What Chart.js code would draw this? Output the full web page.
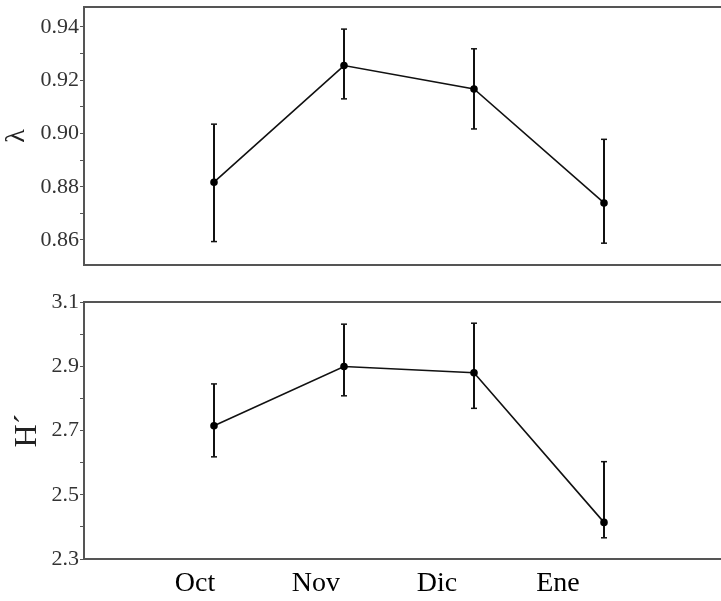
<!DOCTYPE html>
<html>
<head>
<meta charset="utf-8">
<script src="https://cdn.jsdelivr.net/npm/chart.js@4/dist/chart.umd.min.js"></script>
<style>
  html, body { margin: 0; padding: 0; background: #fff; overflow: hidden; width: 721px; height: 601px; }
  canvas { position: absolute; left: 0; }
  #c1 { top: 0; }
  #c2 { top: 290px; }
</style>
</head>
<body>
<canvas id="c1" width="740" height="272"></canvas>
<canvas id="c2" width="740" height="311"></canvas>
<script>
// ---- data ----
const months = ["Oct", "Nov", "Dic", "Ene"];

const lambdaMean = [0.8817, 0.9255, 0.9167, 0.8739];
const lambdaLow  = [0.8594, 0.9130, 0.9017, 0.8588];
const lambdaHigh = [0.9035, 0.9392, 0.9318, 0.8978];

const hMean = [2.715, 2.899, 2.880, 2.414];
const hLow  = [2.618, 2.808, 2.769, 2.366];
const hHigh = [2.845, 3.031, 3.034, 2.603];

const lambdaTicks = [0.86, 0.88, 0.90, 0.92, 0.94];
const hTicks = [2.3, 2.5, 2.7, 2.9, 3.1];

// ---- helpers ----
const SERIF = "'Liberation Serif', 'Times New Roman', serif";
const AXIS_COLOR = "#555";

const boxPlugin = {
  id: "box",
  afterDraw(chart) {
    const a = chart.chartArea, ctx = chart.ctx;
    ctx.save();
    ctx.strokeStyle = AXIS_COLOR;
    ctx.lineWidth = 2;
    ctx.strokeRect(a.left, a.top, a.right - a.left, a.bottom - a.top);
    ctx.restore();
  }
};

function buildDatasets(mean, low, high) {
  const whiskers = months.flatMap((m, i) => [{x: i, y: low[i]}, {x: i, y: high[i]}, {x: i, y: null}]);
  const caps = months.flatMap((m, i) => [{x: i, y: low[i]}, {x: i, y: high[i]}]);
  const means = months.map((m, i) => ({x: i, y: mean[i]}));
  return [
    { data: means, showLine: true, borderColor: "#111", borderWidth: 1.6,
      pointRadius: 3, pointBackgroundColor: "#000", pointBorderColor: "#000", order: 0 },
    { data: whiskers, showLine: true, spanGaps: false, borderColor: "#111", borderWidth: 2,
      pointRadius: 0, order: 1 },
    { data: caps, showLine: false, pointStyle: "line", pointRadius: 3,
      borderColor: "#111", pointBorderColor: "#111", pointBorderWidth: 1.5, order: 2 }
  ];
}

function yScale(min, max, step, labelTicks, decimals, title, titleSize, titlePad) {
  return {
    type: "linear", min: min, max: max,
    afterFit: (s) => { s.width = 84; s.paddingTop = 0; s.paddingBottom = 0; },
    border: { display: false },
    grid: { drawOnChartArea: false, drawTicks: true, tickLength: 4, color: AXIS_COLOR, lineWidth: 1 },
    ticks: {
      stepSize: step, includeBounds: false, padding: 1, color: "#333",
      font: { family: SERIF, size: 22 },
      callback: (v) => {
        const hit = labelTicks.find(t => Math.abs(t - v) < step / 10);
        return hit !== undefined ? hit.toFixed(decimals) : "";
      }
    },
    title: { display: true, text: title, color: "#222",
      font: { family: SERIF, size: titleSize }, padding: { top: titlePad, bottom: 0 } }
  };
}

// data axis (hidden) – points sit at integer positions
function xDataScale() {
  return { type: "linear", min: -1, max: 4, display: false };
}

// month label axis at the bottom of the lower panel
function xLabelScale() {
  return {
    type: "linear", position: "bottom", min: -0.917, max: 4.455,
    afterFit: (s) => { s.height = 42; s.paddingLeft = 0; s.paddingRight = 0; },
    border: { display: false },
    grid: { display: false, drawTicks: false },
    ticks: {
      stepSize: 1, includeBounds: false, padding: 8, color: "#000",
      autoSkip: false, maxRotation: 0,
      font: { family: SERIF, size: 28 },
      callback: (v) => (Number.isInteger(v) && months[v] !== undefined) ? months[v] : ""
    }
  };
}

Chart.defaults.animation = false;

new Chart(document.getElementById("c1"), {
  type: "scatter",
  data: { datasets: buildDatasets(lambdaMean, lambdaLow, lambdaHigh) },
  options: {
    responsive: false, devicePixelRatio: 1, animation: false,
    layout: { padding: { top: 7, bottom: 7, left: 0, right: 6 } },
    plugins: { legend: { display: false }, tooltip: { enabled: false } },
    scales: {
      x: xDataScale(),
      y: yScale(0.8506, 0.9475, 0.01, lambdaTicks, 2, "λ", 28, 0)
    }
  },
  plugins: [boxPlugin]
});

new Chart(document.getElementById("c2"), {
  type: "scatter",
  data: { datasets: buildDatasets(hMean, hLow, hHigh) },
  options: {
    responsive: false, devicePixelRatio: 1, animation: false,
    layout: { padding: { top: 12, bottom: 0, left: 0, right: 6 } },
    plugins: { legend: { display: false }, tooltip: { enabled: false } },
    scales: {
      x: xDataScale(),
      xl: xLabelScale(),
      y: yScale(2.3, 3.1, 0.1, hTicks, 1, "H´", 32, 8)
    }
  },
  plugins: [boxPlugin]
});
</script>
</body>
</html>
